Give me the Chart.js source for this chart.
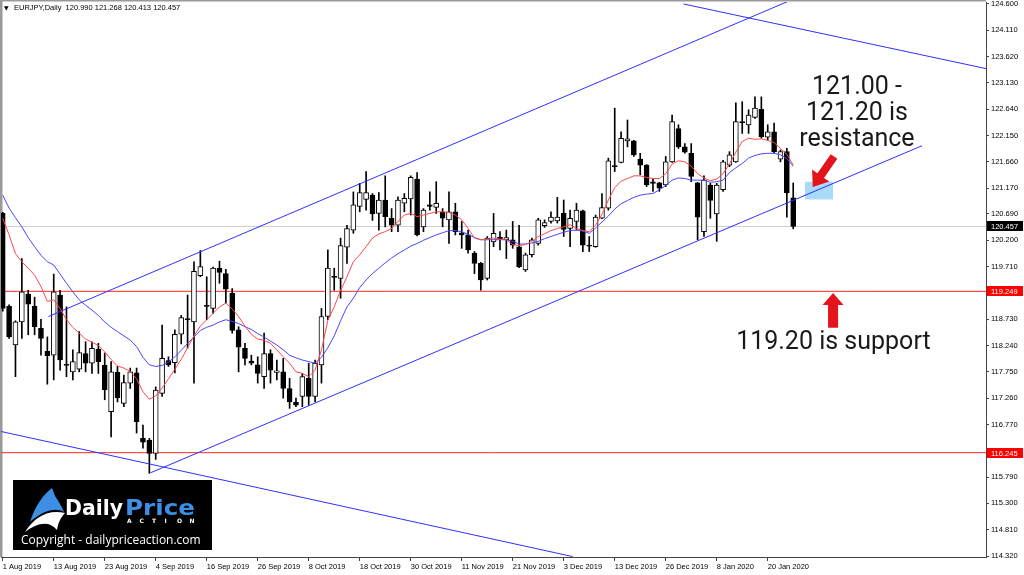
<!DOCTYPE html>
<html>
<head>
<meta charset="utf-8">
<script src="https://cdn.jsdelivr.net/npm/chart.js@4.4.1/dist/chart.umd.min.js"></script>
<style>
html,body{margin:0;padding:0;background:#fff;}
#wrap{width:1024px;height:575px;}
</style>
</head>
<body>
<div id="wrap"><canvas id="chart" width="1024" height="575"></canvas></div>
<script>
'use strict';

// EURJPY daily bars, 1 Aug 2019 .. 24 Jan 2020 (index = bar number)
const opens = [
  120.70,118.97,118.25,118.68,119.20,118.97,118.56,118.13,118.06,119.18,
  117.89,117.75,117.80,118.09,117.91,118.17,117.87,117.01,117.74,117.16,
  117.54,117.73,116.51,116.48,116.23,117.35,117.96,117.92,118.45,118.74,
  118.68,119.54,118.99,118.93,119.68,119.58,119.21,118.53,118.19,117.95,
  117.88,117.66,118.09,117.74,117.75,117.44,117.18,117.29,117.63,117.29,
  117.88,118.78,119.53,119.49,120.07,120.39,120.83,120.96,121.04,120.70,
  120.95,120.61,120.48,120.89,120.97,121.34,120.45,120.86,120.81,120.73,
  120.58,120.73,120.34,120.30,119.96,119.77,119.49,120.17,120.26,120.21,
  120.21,120.08,119.65,119.93,120.14,120.47,120.55,120.56,120.70,120.42,
  120.55,120.75,120.11,120.08,120.61,120.80,121.59,121.65,122.05,122.05,
  121.71,121.60,121.29,121.27,121.23,121.66,122.28,121.94,121.82,121.27,
  120.36,121.23,120.69,121.14,121.60,121.66,122.40,122.35,122.49,122.64,
  122.12,122.22,121.71,121.85,120.990
];
const highs = [
  120.72,119.00,118.70,119.86,119.27,119.14,118.73,118.40,119.57,119.27,
  118.96,118.16,118.50,118.31,118.31,118.28,118.10,117.94,117.85,117.69,
  117.82,117.82,116.76,116.51,117.47,118.62,118.03,118.53,118.80,119.18,
  119.80,120.01,119.52,119.70,119.81,119.66,119.30,118.59,118.28,118.06,
  118.03,118.47,118.16,117.97,118.00,117.63,117.26,117.72,117.91,117.97,
  118.93,120.02,119.68,120.24,120.48,121.10,121.26,121.48,121.07,121.09,
  121.40,120.79,121.01,121.07,121.40,121.46,120.79,121.10,121.29,120.79,
  121.10,120.89,120.55,120.39,119.99,119.79,120.27,120.70,120.36,120.39,
  120.55,120.48,119.96,120.24,120.61,120.58,120.73,121.00,120.95,120.76,
  120.89,120.76,120.27,120.67,121.07,121.73,122.66,122.22,122.44,122.06,
  121.82,121.61,121.35,121.28,121.76,122.53,122.35,122.00,122.00,121.28,
  121.40,121.26,121.26,121.69,121.85,122.76,122.78,122.63,122.87,122.87,
  122.35,122.38,121.88,121.91,121.268
];
const lows = [
  118.88,118.37,117.66,118.37,118.44,118.44,118.06,117.52,117.60,117.78,
  117.66,117.60,117.75,117.75,117.72,117.72,117.23,116.54,117.19,117.10,
  117.44,116.61,116.33,115.86,116.12,117.29,117.85,117.73,118.27,118.19,
  117.54,119.52,118.72,118.84,119.40,119.03,118.47,117.75,117.88,117.88,
  117.54,117.44,117.54,117.60,117.26,117.07,117.10,117.10,117.13,117.19,
  117.54,118.72,119.27,119.12,119.77,120.33,120.73,120.76,120.57,120.39,
  120.45,120.36,120.36,120.73,120.67,120.28,120.36,120.76,120.70,120.45,
  120.14,120.30,120.05,119.96,119.58,119.27,119.46,120.08,120.02,119.86,
  120.05,119.69,119.62,119.89,120.11,120.44,120.52,120.52,120.27,120.08,
  120.39,119.99,119.99,120.07,120.60,120.76,121.48,121.64,121.94,121.76,
  121.42,121.20,121.11,121.11,121.20,121.65,121.91,121.82,121.29,120.21,
  120.27,120.61,120.18,121.11,121.57,121.65,122.19,122.19,122.47,122.10,
  122.07,121.82,121.66,120.63,120.413
];
const closes = [
  118.93,118.40,118.68,119.24,119.01,118.59,118.37,118.05,119.24,117.97,
  117.87,117.94,118.11,117.91,118.19,117.94,117.42,117.75,117.27,117.55,
  117.75,116.82,116.44,116.23,117.41,118.00,117.88,118.45,118.76,118.72,
  119.62,119.71,118.97,119.68,119.60,119.29,118.52,118.21,118.00,117.91,
  117.72,118.09,117.78,117.77,117.44,117.19,117.13,117.66,117.29,117.91,
  118.78,119.68,119.51,120.10,120.42,120.86,121.09,121.09,120.69,120.95,
  120.64,120.48,120.95,120.98,121.37,120.30,120.76,120.83,120.89,120.61,
  120.73,120.36,120.30,120.02,119.77,119.46,120.24,120.33,120.22,120.25,
  120.11,119.71,119.93,120.21,120.58,120.53,120.63,120.63,120.40,120.61,
  120.76,120.11,120.09,120.63,120.81,121.68,121.57,122.10,122.09,121.79,
  121.60,121.23,121.26,121.17,121.66,122.41,121.94,121.84,121.39,120.63,
  121.32,120.94,121.23,121.66,121.79,122.41,122.39,122.53,122.66,122.13,
  122.22,121.85,121.85,121.08,120.457
];

// moving averages (red = fast, blue = slow)
const redMa = [
  120.61,120.30,119.95,119.80,119.68,119.55,119.34,119.06,119.09,118.93,
  118.72,118.58,118.47,118.36,118.30,118.24,118.12,117.98,117.86,117.82,
  117.76,117.62,117.38,117.24,117.30,117.45,117.62,117.80,117.98,118.20,
  118.42,118.60,118.72,118.84,118.96,119.03,118.92,118.78,118.60,118.45,
  118.36,118.34,118.28,118.16,118.03,117.91,117.75,117.72,117.66,117.78,
  118.16,118.71,118.96,119.27,119.52,119.80,119.93,120.08,120.24,120.32,
  120.36,120.42,120.55,120.67,120.70,120.64,120.67,120.70,120.73,120.73,
  120.72,120.67,120.58,120.42,120.24,120.21,120.22,120.24,120.22,120.21,
  120.12,120.10,120.12,120.18,120.27,120.32,120.38,120.42,120.45,120.49,
  120.42,120.38,120.36,120.48,120.68,120.95,121.18,121.30,121.35,121.40,
  121.40,121.37,121.35,121.35,121.44,121.62,121.68,121.66,121.58,121.44,
  121.36,121.31,121.34,121.44,121.62,121.84,122.04,122.10,122.08,122.09,
  122.06,122.02,121.91,121.80,121.60
];
const blueMa = [
  121.04,120.80,120.62,120.45,120.25,120.08,119.92,119.80,119.74,119.57,
  119.40,119.24,119.09,118.99,118.90,118.80,118.68,118.58,118.50,118.42,
  118.34,118.22,118.02,117.88,117.85,117.87,117.93,118.03,118.15,118.28,
  118.40,118.52,118.58,118.62,118.68,118.72,118.69,118.65,118.59,118.54,
  118.46,118.40,118.32,118.25,118.16,118.06,118.01,117.97,117.94,117.91,
  118.02,118.20,118.42,118.70,118.96,119.12,119.32,119.46,119.58,119.68,
  119.78,119.87,119.95,120.02,120.09,120.14,120.20,120.25,120.30,120.34,
  120.38,120.38,120.36,120.31,120.25,120.21,120.21,120.21,120.21,120.21,
  120.18,120.13,120.13,120.15,120.18,120.23,120.27,120.31,120.35,120.38,
  120.39,120.37,120.33,120.43,120.54,120.65,120.78,120.88,120.94,121.00,
  121.04,121.06,121.07,121.14,121.22,121.32,121.36,121.35,121.32,121.32,
  121.32,121.28,121.29,121.32,121.46,121.55,121.63,121.73,121.78,121.81,
  121.82,121.82,121.79,121.72,121.58
];

const tickBars = [0,8,16,24,32,40,48,56,64,72,80,88,96,104,112,120];
const tickDates = ['1 Aug 2019','13 Aug 2019','23 Aug 2019','4 Sep 2019','16 Sep 2019','26 Sep 2019',
  '8 Oct 2019','18 Oct 2019','30 Oct 2019','11 Nov 2019','21 Nov 2019','3 Dec 2019',
  '13 Dec 2019','26 Dec 2019','8 Jan 2020','20 Jan 2020'];
const priceTicks = [124.600,124.110,123.620,123.130,122.640,122.150,121.660,121.170,120.690,120.200,
  119.710,119.220,118.730,118.240,117.750,117.260,116.770,116.280,115.790,115.300,114.810,114.320];

// drawn objects: [bar, price] end points
const channelUpper = [[7.17,118.78],[124,124.69]];
const channelLower = [[23.2,115.87],[144.2,121.96]];
const fallLower = [[-0.3,116.64],[89.4,114.31]];
const fallUpper = [[106.8,124.60],[154.5,123.39]];
const redLevels = [119.249,116.245];
const bidLevel = 120.457;
const zoneBars = [125.85,130.24];
const zonePrices = [120.96,121.29];
const arrowDown = [[130.4,121.76],[127.06,121.19]];
const arrowUp = [[130.25,118.57],[130.25,119.22]];
const resistText = ['121.00 -','121.20 is','resistance'];
const resistBar = 134.0;
const resistPrices = [123.04,122.56,122.07];
const supportText = '119.20 is support';
const supportAt = [130.3,118.29];

const lastBar = closes.length - 1;

Chart.defaults.font.family = '"Liberation Sans", Arial, sans-serif';
Chart.defaults.font.size = 7.5;
Chart.defaults.color = '#000';

function pts(pair) {
  return pair.map(p => ({x:p[0], y:p[1]}));
}
function lineSet(data, color, order) {
  return {type:'line', data:data, borderColor:color, borderWidth:1, pointRadius:0, tension:0, order:order};
}

function drawArrow(ctx, x0, y0, x1, y1, shaft, head, headLen) {
  const dx = x1 - x0, dy = y1 - y0, len = Math.hypot(dx, dy);
  const ux = dx / len, uy = dy / len, nx = -uy, ny = ux;
  const bx = x1 - ux * headLen, by = y1 - uy * headLen;
  ctx.beginPath();
  ctx.moveTo(x0 + nx * shaft / 2, y0 + ny * shaft / 2);
  ctx.lineTo(bx + nx * shaft / 2, by + ny * shaft / 2);
  ctx.lineTo(bx + nx * head / 2, by + ny * head / 2);
  ctx.lineTo(x1, y1);
  ctx.lineTo(bx - nx * head / 2, by - ny * head / 2);
  ctx.lineTo(bx - nx * shaft / 2, by - ny * shaft / 2);
  ctx.lineTo(x0 - nx * shaft / 2, y0 - ny * shaft / 2);
  ctx.closePath();
  ctx.fill();
}

function priceBox(ctx, area, yPix, text, bg) {
  ctx.fillStyle = bg;
  ctx.fillRect(area.right + 1, Math.round(yPix) - 5, 36, 10);
  ctx.fillStyle = '#fff';
  ctx.font = '7.5px "Liberation Sans"';
  ctx.textAlign = 'left';
  ctx.textBaseline = 'middle';
  ctx.fillText(text, area.right + 5, Math.round(yPix) + 0.5);
}

// stretch or squeeze a word so it fills the given width
function fitText(ctx, text, x, y, w) {
  const natural = ctx.measureText(text).width;
  ctx.save();
  ctx.translate(x, y);
  ctx.scale(w / natural, 1);
  ctx.fillText(text, 0, 0);
  ctx.restore();
}

function drawLogo(ctx, area) {
  const l = area.left + 12, t = area.bottom - 77;
  ctx.fillStyle = '#000';
  ctx.fillRect(l, t, 199, 70);
  // icon
  ctx.fillStyle = '#3c8fe4';
  ctx.beginPath();
  ctx.moveTo(l + 17, t + 42);
  ctx.bezierCurveTo(l + 22, t + 26, l + 30, t + 15, l + 39, t + 8);
  ctx.lineTo(l + 42, t + 16);
  ctx.bezierCurveTo(l + 46, t + 22, l + 49, t + 27, l + 51, t + 32);
  ctx.bezierCurveTo(l + 42, t + 27, l + 30, t + 31, l + 17, t + 42);
  ctx.closePath();
  ctx.fill();
  ctx.fillStyle = '#fff';
  ctx.beginPath();
  ctx.moveTo(l + 12, t + 52);
  ctx.bezierCurveTo(l + 22, t + 36, l + 36, t + 29, l + 52, t + 33);
  ctx.bezierCurveTo(l + 47, t + 38, l + 45, t + 44, l + 44, t + 50);
  ctx.bezierCurveTo(l + 36, t + 40, l + 24, t + 43, l + 12, t + 52);
  ctx.closePath();
  ctx.fill();
  ctx.textAlign = 'left';
  ctx.textBaseline = 'alphabetic';
  ctx.font = 'bold 21px "DejaVu Sans"';
  ctx.fillStyle = '#fff';
  fitText(ctx, 'Daily', l + 52, t + 35, 58);
  ctx.fillStyle = '#3c8fe4';
  fitText(ctx, 'Price', l + 112, t + 35, 70);
  ctx.fillStyle = '#fff';
  ctx.font = 'bold 6px "DejaVu Sans"';
  const word = 'ACTION';
  for (let i = 0; i < word.length; i++) {
    ctx.fillText(word[i], l + 114 + i * 12.5, t + 43);
  }
  ctx.font = '12px "Open Sans"';
  ctx.fillText('Copyright - dailypriceaction.com', l + 8, t + 64, 183);
}

const overlay = {
  id:'overlay',
  beforeDraw(chart) {
    const {ctx, chartArea:a} = chart;
    ctx.save();
    ctx.fillStyle = '#fff';
    ctx.fillRect(0, 0, chart.width, chart.height);
    ctx.fillStyle = '#9a9a9a';
    ctx.fillRect(0, 0, 2.5, a.bottom);
    ctx.fillRect(0, 0, a.right, 1.5);
    ctx.restore();
  },
  beforeDatasetsDraw(chart) {
    const {ctx, scales:{x, y}} = chart;
    const x0 = x.getPixelForValue(zoneBars[0]), x1 = x.getPixelForValue(zoneBars[1]);
    const y0 = y.getPixelForValue(zonePrices[1]), y1 = y.getPixelForValue(zonePrices[0]);
    ctx.save();
    ctx.fillStyle = '#a9dbf9';
    ctx.fillRect(x0, y0, x1 - x0, y1 - y0);
    ctx.restore();
  },
  afterDraw(chart) {
    const {ctx, chartArea:a, scales:{x, y}} = chart;
    ctx.save();
    // arrows
    ctx.fillStyle = '#e3141c';
    drawArrow(ctx, x.getPixelForValue(arrowDown[0][0]), y.getPixelForValue(arrowDown[0][1]),
      x.getPixelForValue(arrowDown[1][0]), y.getPixelForValue(arrowDown[1][1]), 8, 21, 14);
    drawArrow(ctx, x.getPixelForValue(arrowUp[0][0]), y.getPixelForValue(arrowUp[0][1]),
      x.getPixelForValue(arrowUp[1][0]), y.getPixelForValue(arrowUp[1][1]), 10, 21, 12);
    // notes
    ctx.fillStyle = '#1a1a1a';
    ctx.font = '25px Roboto';
    ctx.textAlign = 'center';
    ctx.textBaseline = 'middle';
    resistText.forEach((t, i) => {
      ctx.fillText(t, x.getPixelForValue(resistBar), y.getPixelForValue(resistPrices[i]));
    });
    ctx.fillText(supportText, x.getPixelForValue(supportAt[0]), y.getPixelForValue(supportAt[1]));
    // price tags on the scale
    priceBox(ctx, a, y.getPixelForValue(bidLevel), bidLevel.toFixed(3), '#000');
    redLevels.forEach(v => priceBox(ctx, a, y.getPixelForValue(v), v.toFixed(3), '#ff0000'));
    // header
    ctx.fillStyle = '#000';
    ctx.font = '6px "DejaVu Sans"';
    ctx.textAlign = 'left';
    ctx.fillText('\u25BC', 4, 8);
    ctx.font = '7.5px "Liberation Sans"';
    ctx.fillText('EURJPY,Daily  ' + [opens[lastBar], highs[lastBar], lows[lastBar], closes[lastBar]]
      .map(v => v.toFixed(3)).join(' '), 14, 8);
    drawLogo(ctx, a);
    ctx.restore();
  }
};

function renderChart() {
  const canvasElem = document.getElementById('chart');
  const farLeft = -5, farRight = 170;

  const datasets = [
    lineSet(redMa.map((v, i) => ({x:i, y:v})), '#ff4848', 0),
    lineSet(blueMa.map((v, i) => ({x:i, y:v})), '#4848ff', 0),
    lineSet(pts(channelUpper), '#3030ff', 0),
    lineSet(pts(channelLower), '#3030ff', 0),
    lineSet(pts(fallLower), '#3030ff', 0),
    lineSet(pts(fallUpper), '#3030ff', 0),
    lineSet([{x:farLeft, y:redLevels[0]}, {x:farRight, y:redLevels[0]}], '#ff2a2a', 3),
    lineSet([{x:farLeft, y:redLevels[1]}, {x:farRight, y:redLevels[1]}], '#ff2a2a', 3),
    lineSet([{x:farLeft, y:bidLevel}, {x:farRight, y:bidLevel}], '#cfcfcf', 3),
    {
      label:'body',
      data:opens.map((o, i) => ({x:i, y:[o, closes[i]]})),
      barThickness:5,
      minBarLength:1,
      grouped:false,
      backgroundColor:ctx => (closes[ctx.dataIndex] >= opens[ctx.dataIndex] ? '#fff' : '#000'),
      borderColor:'#000',
      borderWidth:1,
      borderSkipped:false,
      order:1
    },
    {
      label:'wick',
      data:lows.map((l, i) => ({x:i, y:[l, highs[i]]})),
      barThickness:1,
      grouped:false,
      backgroundColor:'#000',
      borderWidth:0,
      order:2
    }
  ];

  new Chart(canvasElem, {
    type:'bar',
    data:{datasets:datasets},
    plugins:[overlay],
    options:{
      responsive:false,
      animation:false,
      devicePixelRatio:1,
      layout:{padding:{left:1, top:2, right:0, bottom:0}},
      plugins:{legend:{display:false}, tooltip:{enabled:false}},
      scales:{
        x:{
          type:'linear',
          min:-0.27,
          max:154.24,
          offset:false,
          grid:{drawOnChartArea:false, offset:false, tickLength:4, color:'#444'},
          border:{color:'#444'},
          ticks:{
            autoSkip:false,
            maxRotation:0,
            align:'start',
            padding:1,
            callback:v => tickDates[tickBars.indexOf(v)] || ''
          },
          afterBuildTicks:s => { s.ticks = tickBars.map(v => ({value:v})); },
          afterFit:s => { s.height = 18; s.paddingLeft = 0; s.paddingRight = 0; }
        },
        y:{
          type:'linear',
          position:'right',
          min:114.302,
          max:124.637,
          grid:{drawOnChartArea:false, tickLength:3, color:'#444'},
          border:{color:'#444'},
          ticks:{autoSkip:false, padding:2, callback:v => v.toFixed(3)},
          afterBuildTicks:s => { s.ticks = priceTicks.map(v => ({value:v})); },
          afterFit:s => { s.width = 38; s.paddingTop = 0; s.paddingBottom = 0; }
        }
      }
    }
  });
}

renderChart();
</script>
</body>
</html>
